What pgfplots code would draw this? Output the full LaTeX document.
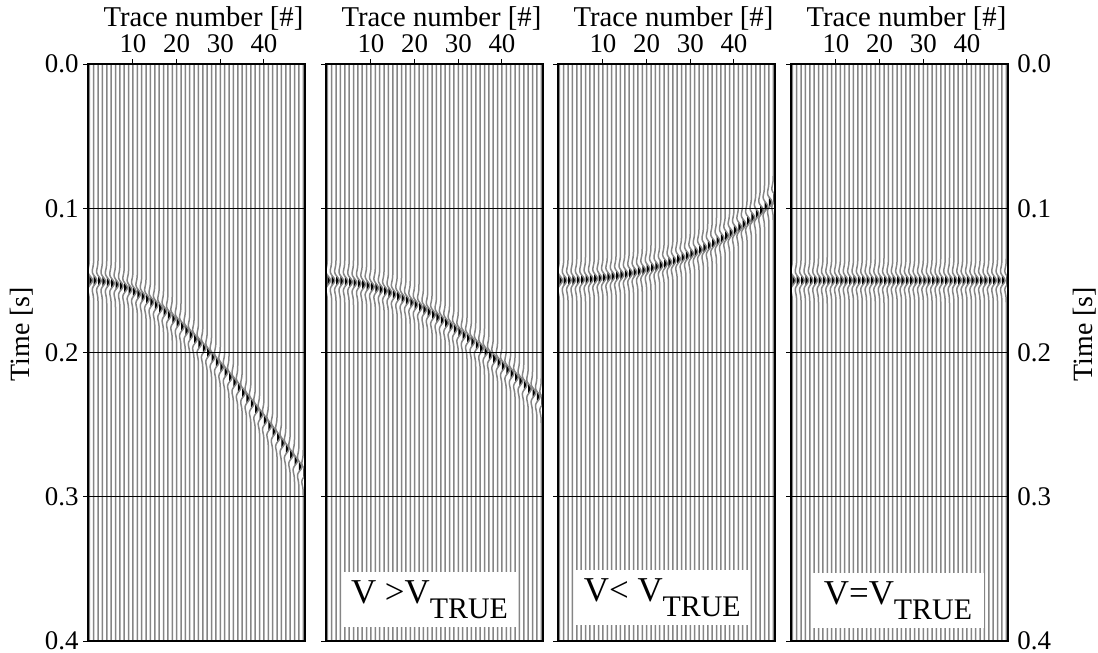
\documentclass[border=0pt]{standalone}
\usepackage{fontspec}
\setmainfont{Liberation Serif}
\usepackage{pgfplots}
\usepackage{pgfplotstable}
\pgfplotsset{compat=1.18}

% Picked event time (s) of the reflection on every trace of the four gathers
\pgfplotstableread{
n  t1      t2      t3      t4
0  0.15000 0.15000 0.15000 0.150
1  0.15008 0.15004 0.14998 0.150
2  0.15032 0.15018 0.14992 0.150
3  0.15072 0.15040 0.14983 0.150
4  0.15128 0.15071 0.14969 0.150
5  0.15199 0.15111 0.14952 0.150
6  0.15286 0.15159 0.14930 0.150
7  0.15387 0.15216 0.14905 0.150
8  0.15504 0.15282 0.14876 0.150
9  0.15635 0.15355 0.14843 0.150
10 0.15781 0.15438 0.14806 0.150
11 0.15940 0.15528 0.14765 0.150
12 0.16112 0.15626 0.14720 0.150
13 0.16298 0.15732 0.14671 0.150
14 0.16495 0.15846 0.14618 0.150
15 0.16705 0.15968 0.14560 0.150
16 0.16927 0.16097 0.14499 0.150
17 0.17159 0.16233 0.14433 0.150
18 0.17403 0.16375 0.14362 0.150
19 0.17656 0.16525 0.14288 0.150
20 0.17920 0.16682 0.14209 0.150
21 0.18193 0.16845 0.14125 0.150
22 0.18474 0.17014 0.14037 0.150
23 0.18765 0.17189 0.13944 0.150
24 0.19063 0.17370 0.13846 0.150
25 0.19370 0.17557 0.13744 0.150
26 0.19684 0.17750 0.13636 0.150
27 0.20004 0.17947 0.13523 0.150
28 0.20332 0.18150 0.13405 0.150
29 0.20666 0.18358 0.13282 0.150
30 0.21006 0.18571 0.13153 0.150
31 0.21352 0.18788 0.13018 0.150
32 0.21704 0.19010 0.12877 0.150
33 0.22061 0.19237 0.12731 0.150
34 0.22423 0.19467 0.12578 0.150
35 0.22790 0.19702 0.12418 0.150
36 0.23161 0.19940 0.12252 0.150
37 0.23536 0.20183 0.12079 0.150
38 0.23916 0.20429 0.11898 0.150
39 0.24300 0.20678 0.11709 0.150
40 0.24687 0.20931 0.11513 0.150
41 0.25079 0.21187 0.11308 0.150
42 0.25473 0.21447 0.11094 0.150
43 0.25871 0.21709 0.10870 0.150
44 0.26272 0.21974 0.10636 0.150
45 0.26676 0.22242 0.10392 0.150
46 0.27082 0.22513 0.10135 0.150
47 0.27492 0.22787 0.09867 0.150
48 0.27904 0.23063 0.09584 0.150
49 0.28318 0.23341 0.09287 0.150
}\events

% Ricker wavelet (60 Hz) sampled around the event time, padded with a flat trace
\pgfplotstableread{
dt      a
-1      0
-0.016  0
-0.014 -0.0122
-0.013 -0.0272
-0.012 -0.0554
-0.011 -0.1032
-0.010 -0.1748
-0.009 -0.2675
-0.008 -0.3651
-0.007 -0.4352
-0.006 -0.4336
-0.005 -0.3195
-0.004 -0.0776
-0.003  0.2618
-0.002  0.6209
-0.001  0.8965
0       1
0.001   0.8965
0.002   0.6209
0.003   0.2618
0.004  -0.0776
0.005  -0.3195
0.006  -0.4336
0.007  -0.4352
0.008  -0.3651
0.009  -0.2675
0.010  -0.1748
0.011  -0.1032
0.012  -0.0554
0.013  -0.0272
0.014  -0.0122
0.016   0
1       0
}\wavelet

% positive lobe of the same wavelet, filled black (variable area)
\pgfplotstableread{
dt       a
-0.00375 0
-0.003   0.2618
-0.002   0.6209
-0.001   0.8965
0        1
0.001    0.8965
0.002    0.6209
0.003    0.2618
0.00375  0
}\lobe

\pgfplotsset{
  wig/.style={black!48, line width=0.75bp},
  gather/.style={
    scale only axis, width=108.5bp, height=288.5bp,
    anchor=north west,
    xmin=-0.3, xmax=49.4, ymin=0, ymax=0.4, y dir=reverse,
    axis on top,
    xtick={10,20,30,40}, ytick={0,0.1,0.2,0.3,0.4},
    xtick pos=right, xticklabel pos=right,
    ytick pos=left,
    ymajorgrids, grid style={black, line width=0.5bp},
    tick align=outside, major tick length=2.5bp,
    tick style={black, line width=0.5bp},
    axis line style={line width=0.6bp},
    /pgf/number format/assume math mode=true,
    ticklabel style={font=\fontsize{13.5}{15}\selectfont},
    xticklabel style={inner ysep=3bp},
    yticklabel style={inner xsep=2bp, /pgf/number format/.cd, fixed, fixed zerofill, precision=1},
    xlabel={Trace number [\#]},
    xlabel style={font=\fontsize{14.4}{16}\selectfont, at={(axis description cs:0.5,1)}, anchor=base, yshift=19bp, xshift=3.5bp},
  },
}

% wiggle amplitude in trace spacings
\def\amp{0.72}

% one wiggle trace per receiver, event time taken from column #1
\newcommand\drawgather[1]{%
  \pgfplotsinvokeforeach{0,...,49}{%
    \pgfplotstablegetelem{##1}{#1}\of\events
    \edef\doplot{%
      \noexpand\addplot[fill=black, draw=none] table[x expr=##1+\amp*\noexpand\thisrow{a}, y expr=\pgfplotsretval+\noexpand\thisrow{dt}] {\noexpand\lobe};%
      \noexpand\addplot[wig] table[x expr=##1+\amp*\noexpand\thisrow{a}, y expr=\pgfplotsretval+\noexpand\thisrow{dt}] {\noexpand\wavelet};%
    }\doplot
  }}

\newcommand\vlabel[1]{\fontsize{17.5}{20}\selectfont #1\raisebox{-7.5bp}{\fontsize{15}{18}\selectfont TRUE}}
\tikzset{vbox/.style={fill=white, inner sep=0pt, minimum width=86.5bp, minimum height=27.5bp}}

\begin{document}
\begin{tikzpicture}
\useasboundingbox (0,0) rectangle (549bp,-326.5bp);

\begin{axis}[gather, at={(44bp,-32bp)}]
  \drawgather{t1}
\end{axis}

\begin{axis}[gather, at={(163bp,-32bp)}, yticklabels={}]
  \drawgather{t2}
  \node[vbox] at (axis cs:23.4,0.3712) {\vlabel{V >V}};
\end{axis}

\begin{axis}[gather, at={(279bp,-32bp)}, yticklabels={}]
  \drawgather{t3}
  \node[vbox] at (axis cs:23.6,0.370) {\vlabel{V< V}};
\end{axis}

\begin{axis}[gather, at={(395.5bp,-32bp)}, yticklabel pos=right]
  \drawgather{t4}
  \node[vbox] at (axis cs:24.2,0.372) {\vlabel{V=V}};
\end{axis}

\node[rotate=90, font=\fontsize{14}{16}\selectfont] at (11bp,-167bp) {Time [s]};
\node[rotate=90, font=\fontsize{14}{16}\selectfont] at (542.5bp,-167bp) {Time [s]};
\end{tikzpicture}
\end{document}
